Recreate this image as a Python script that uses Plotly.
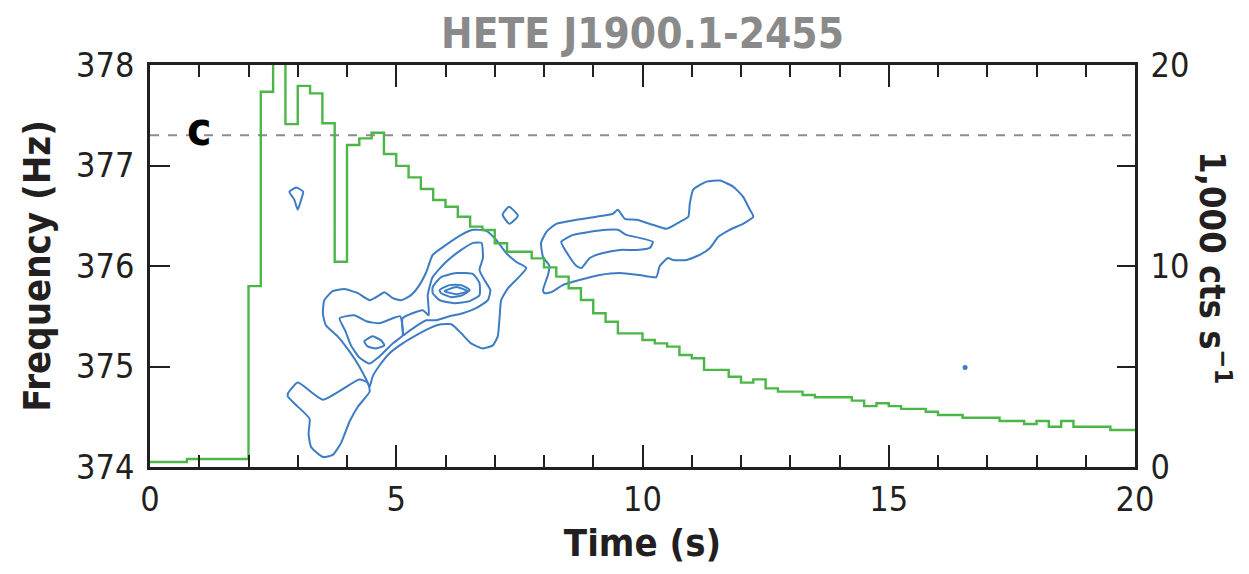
import plotly.graph_objects as go

# ---------------- data ----------------
# light curve (thousands of counts / s), bin start times (s)
LC_TIME = [0.0, 0.75, 2.0, 2.25, 2.5, 2.75, 3.0, 3.25, 3.5, 3.75, 4.0, 4.25, 4.5, 4.75,
           5.0, 5.25, 5.5, 5.75, 6.0, 6.25, 6.5, 6.75, 7.0, 7.25, 7.5, 7.75, 8.0, 8.25,
           8.5, 8.75, 9.0, 9.25, 9.5, 9.75, 10.0, 10.25, 10.5, 10.75, 11.0, 11.25, 11.5,
           11.75, 12.0, 12.25, 12.5, 12.75, 13.0, 13.25, 13.5, 13.75, 14.0, 14.25, 14.5,
           14.75, 15.0, 15.25, 15.5, 15.75, 16.0, 16.25, 16.5, 16.75, 17.0, 17.25, 17.5,
           17.75, 18.0, 18.25, 18.5, 18.75, 19.0, 19.25, 19.5, 19.75, 20.0]
LC_RATE = [0.25, 0.4, 9.0, 18.67, 22.0, 17.06, 18.96, 18.59, 17.1, 10.21, 16.02, 16.35, 16.63, 15.57,
           14.98, 14.41, 13.83, 13.28, 12.95, 12.45, 11.96, 11.79, 11.13, 10.71, 10.71, 10.38, 9.93, 9.47,
           8.89, 8.31, 7.65, 7.23, 6.65, 6.65, 6.32, 6.15, 5.99, 5.57, 5.41, 4.83, 4.83,
           4.49, 4.2, 4.36, 3.91, 3.75, 3.75, 3.58, 3.47, 3.47, 3.47, 3.3, 3.03,
           3.17, 3.03, 2.89, 2.89, 2.75, 2.59, 2.59, 2.45, 2.45, 2.45, 2.29, 2.29,
           2.14, 2.29, 2.0, 2.29, 2.0, 2.0, 2.0, 1.84, 1.84, 1.84]

# burst-oscillation frequency contours (time s, frequency Hz)
CA_T = [3.54, 3.71, 3.95, 4.22, 4.46, 4.66, 4.76, 4.93, 5.10, 5.30, 5.47, 5.61, 5.74, 6.01, 6.32, 6.56,
        6.83, 7.03, 7.23, 7.44, 7.64, 7.47, 7.27, 7.13, 7.10, 7.06, 6.96, 6.76, 6.52, 6.32, 6.12,
        5.91, 5.67, 5.40, 5.13, 4.86, 4.66, 4.52, 4.46, 4.39, 4.25, 4.05, 3.81, 3.57, 3.51, 3.54]
CA_F = [375.66, 375.75, 375.77, 375.73, 375.66, 375.71, 375.74, 375.68, 375.66, 375.71, 375.81, 375.94,
        376.11, 376.21, 376.31, 376.36, 376.35, 376.26, 376.13, 376.04, 375.98, 375.88, 375.78, 375.66,
        375.50, 375.30, 375.21, 375.18, 375.23, 375.33, 375.42, 375.42, 375.38, 375.31, 375.23, 375.13,
        375.01, 374.90, 374.80, 374.87, 375.00, 375.15, 375.30, 375.41, 375.53, 375.66]

CY_T = [2.80, 3.00, 3.51, 4.25, 4.42, 4.46, 4.22, 4.05, 3.88, 3.71, 3.51, 3.27, 3.22, 3.24, 2.96, 2.80, 2.80]
CY_F = [374.73, 374.84, 374.67, 374.87, 374.84, 374.75, 374.60, 374.45, 374.24, 374.12, 374.10, 374.20,
        374.33, 374.48, 374.62, 374.70, 374.73]

CBL_T = [3.85, 4.15, 4.39, 4.66, 4.93, 5.08, 5.13, 4.93, 4.66, 4.46, 4.25, 4.08, 3.97, 3.85]
CBL_F = [375.48, 375.51, 375.45, 375.43, 375.48, 375.50, 375.31, 375.23, 375.10, 375.03, 375.09, 375.21,
         375.35, 375.48]

CBR_T = [5.13, 5.54, 5.66, 5.64, 5.74, 6.01, 6.32, 6.56, 6.73, 6.76, 6.69, 6.79, 6.91, 6.86, 6.62, 6.35,
         6.08, 5.81, 5.61, 5.40, 5.20, 5.15, 5.13]
CBR_F = [375.48, 375.56, 375.51, 375.71, 375.89, 376.04, 376.16, 376.23, 376.23, 376.08, 375.96, 375.86,
         375.76, 375.66, 375.58, 375.53, 375.50, 375.46, 375.46, 375.40, 375.33, 375.31, 375.48]

CC_T = [4.35, 4.52, 4.69, 4.76, 4.59, 4.42, 4.35]
CC_F = [375.25, 375.30, 375.26, 375.21, 375.18, 375.20, 375.25]

CD_T = [5.74, 5.91, 6.22, 6.56, 6.69, 6.69, 6.49, 6.18, 5.88, 5.74, 5.74]
CD_F = [375.79, 375.89, 375.93, 375.92, 375.83, 375.71, 375.65, 375.63, 375.66, 375.73, 375.79]

CE_T = [5.88, 6.08, 6.32, 6.49, 6.35, 6.12, 5.91, 5.88]
CE_F = [375.76, 375.81, 375.81, 375.76, 375.71, 375.69, 375.73, 375.76]

CF_T = [5.98, 6.22, 6.45, 6.22, 5.98]
CF_F = [375.75, 375.79, 375.75, 375.72, 375.75]

CR_T = [7.94, 8.05, 8.25, 8.66, 9.06, 9.40, 9.50, 9.64, 9.88, 10.21, 10.49, 10.76, 10.93, 10.96, 11.03,
        11.30, 11.57, 11.84, 12.04, 12.18, 12.25, 12.04, 11.77, 11.54, 11.37, 11.16, 10.89, 10.62,
        10.52, 10.35, 10.28, 9.94, 9.54, 9.13, 8.72, 8.38, 8.15, 8.01, 7.98, 8.08, 8.11, 7.98, 7.94]
CR_F = [376.23, 376.34, 376.42, 376.46, 376.49, 376.52, 376.56, 376.47, 376.46, 376.41, 376.37, 376.44,
        376.49, 376.62, 376.76, 376.84, 376.85, 376.79, 376.69, 376.56, 376.49, 376.42, 376.36, 376.29,
        376.18, 376.11, 376.06, 376.06, 376.08, 376.00, 375.89, 375.91, 375.93, 375.91, 375.86, 375.81,
        375.74, 375.73, 375.76, 375.91, 376.00, 376.09, 376.23]

CRI_T = [8.35, 8.59, 8.93, 9.27, 9.50, 9.67, 9.94, 10.21, 10.15, 9.88, 9.54, 9.20, 8.93, 8.76, 8.66,
         8.52, 8.35]
CRI_F = [376.24, 376.31, 376.34, 376.36, 376.36, 376.31, 376.28, 376.24, 376.18, 376.16, 376.16, 376.13,
         376.08, 375.98, 376.00, 376.09, 376.24]

CT_T = [2.83, 2.97, 3.11, 3.07, 3.00, 2.93, 2.83]
CT_F = [376.74, 376.78, 376.74, 376.66, 376.56, 376.66, 376.74]

CS_T = [7.16, 7.29, 7.47, 7.30, 7.16]
CS_F = [376.51, 376.59, 376.50, 376.42, 376.51]

DOT_T = [16.55]
DOT_F = [374.99]

REF_FREQ = 377.3
TIME_RANGE = [0, 20]

TITLE = "HETE J1900.1-2455"
PANEL = "c"
X_TITLE = "Time (s)"
Y_TITLE = "Frequency (Hz)"
Y2_TITLE = "1,000 cts s<sup>−1</sup>"

# ---------------- figure ----------------
FONT = "DejaVu Sans Condensed, Open Sans, sans-serif"
BLUE = "#3d7cc4"
GREEN = "#4cb648"
INK = "#231f20"

fig = go.Figure()

contours = [(CA_T, CA_F), (CY_T, CY_F), (CBL_T, CBL_F), (CBR_T, CBR_F), (CC_T, CC_F),
            (CD_T, CD_F), (CE_T, CE_F), (CF_T, CF_F), (CR_T, CR_F), (CRI_T, CRI_F),
            (CT_T, CT_F), (CS_T, CS_F)]
for ct, cf in contours:
    fig.add_trace(go.Scatter(x=ct, y=cf, mode="lines",
                             line=dict(color=BLUE, width=2, shape="spline", smoothing=0.5),
                             showlegend=False, hoverinfo="skip"))
fig.add_trace(go.Scatter(x=DOT_T, y=DOT_F, mode="markers", marker=dict(color=BLUE, size=5),
                         showlegend=False, hoverinfo="skip"))

# reference frequency (dashed)
fig.add_trace(go.Scatter(x=TIME_RANGE, y=[REF_FREQ, REF_FREQ], mode="lines",
                         line=dict(color="#8c8c8c", width=2, dash="dash"),
                         showlegend=False, hoverinfo="skip"))

fig.add_trace(go.Scatter(x=LC_TIME, y=LC_RATE, mode="lines", yaxis="y2",
                         line=dict(color=GREEN, width=2.4, shape="hv"),
                         showlegend=False, hoverinfo="skip"))

tickfont = dict(family=FONT, size=34, color=INK)
titlefont = dict(family=FONT, size=38, color=INK, weight="bold")

fig.update_layout(
    width=1249, height=574,
    margin=dict(l=150, r=114, t=65, b=107),
    paper_bgcolor="white", plot_bgcolor="white",
    title=dict(text=TITLE, x=0.5, xref="paper", y=1 - 33 / 574, yanchor="middle",
               font=dict(family=FONT, size=42, color="#8a8a8a", weight="bold")),
    xaxis=dict(range=TIME_RANGE, tickvals=[0, 5, 10, 15, 20], ticks="inside", ticklen=22, tickwidth=2,
               tickcolor=INK, showline=True, linecolor=INK, linewidth=2.5, mirror="ticks",
               showgrid=False, zeroline=False, tickfont=tickfont,
               title=dict(text=X_TITLE, font=titlefont, standoff=12),
               minor=dict(dtick=1, ticks="inside", ticklen=12, tickwidth=2, tickcolor=INK, showgrid=False)),
    yaxis=dict(range=[374, 378], dtick=1, ticks="inside", ticklen=20, tickwidth=2, tickcolor=INK,
               showline=True, linecolor=INK, linewidth=2.5, showgrid=False, zeroline=False,
               tickfont=tickfont, ticklabelstandoff=6,
               title=dict(text=Y_TITLE, font=titlefont, standoff=14)),
    yaxis2=dict(range=[0, 20], overlaying="y", side="right", tickvals=[0, 10, 20],
                ticks="inside", ticklen=18, tickwidth=2,
                tickcolor=INK, showline=True, linecolor=INK, linewidth=2.5, showgrid=False,
                zeroline=False, tickfont=tickfont, ticklabelstandoff=6,
                minor=dict(dtick=5, ticks="inside", ticklen=18, tickwidth=2, tickcolor=INK, showgrid=False)),
    annotations=[
        dict(text=Y2_TITLE, xref="paper", yref="paper", x=1.081, y=0.495, showarrow=False,
             textangle=90, xanchor="center", yanchor="middle",
             font=dict(family=FONT, size=36, color=INK, weight="bold")),
        dict(text=PANEL, xref="x", yref="y", x=1.0, y=377.36, showarrow=False, xanchor="center",
             yanchor="middle", font=dict(family=FONT, size=46, color="black", weight="bold")),
    ],
)

fig.write_html("out.html")
